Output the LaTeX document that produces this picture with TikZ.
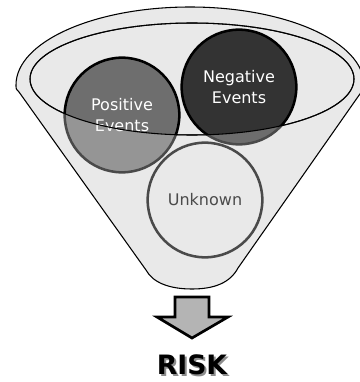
\documentclass[tikz,border=0pt]{standalone}
\usepackage{fontspec}
\setmainfont{DejaVu Sans}

\definecolor{funnelgray}{HTML}{E9E9E9}
\definecolor{posgray}{HTML}{6E6E6E}
\definecolor{neggray}{HTML}{333333}
\definecolor{arrowgray}{HTML}{B4B4B4}

% outline of the funnel (pixel units, y downwards)
\newcommand{\funnelpath}{(16,85) arc[start angle=180, end angle=360, x radius=174, y radius=78]
    .. controls (364,87) .. (362,91) -- (238,268)
    .. controls (230,283) and (214,289) .. (192,289)
    .. controls (170,289) and (153,283) .. (146,270)
    -- (19,92) .. controls (16,89) .. (16,85) -- cycle}

\begin{document}
\begin{tikzpicture}[
    x=0.75pt, y=-0.75pt,
    event/.style={circle, draw=black, line width=1.9pt, minimum size=86pt, inner sep=0pt,
        align=center, font=\fontsize{12}{15.75}\selectfont},
    outline/.style={draw=black, line width=0.8pt},
    riskfont/.style={font=\fontsize{20}{24}\bfseries\selectfont}
]
    \useasboundingbox (0,0) rectangle (360,382);
    \clip (0,0) rectangle (360,382);

    % Funnel body and mouth
    \fill[funnelgray] \funnelpath;
    \draw[outline] (192,79) ellipse [x radius=162, y radius=56];

    % Events
    \node[event, fill=posgray, text=white] (pos) at (122,115) {Positive\\Events};
    \node[event, fill=neggray, text=white] (neg) at (239,87) {Negative\\Events};
    \node[event, fill=funnelgray, text=black] (unk) at (205,200) {Unknown};

    % Front of the funnel, see-through
    \fill[funnelgray, fill opacity=0.32, even odd rule] \funnelpath (192,79) ellipse [x radius=162, y radius=56];
    \draw[outline] (192,79) ellipse [x radius=162, y radius=56];
    \draw[outline] \funnelpath;

    % Arrow down to risk
    \draw[fill=arrowgray, line width=2pt, line join=miter]
        (175,297) -- (209,297) -- (209,317) -- (228,317) -- (192,338)
        -- (157,317) -- (175,317) -- cycle;

    % Result
    \node[riskfont, text=black!45] at (194,366.5) {RISK};
    \node[riskfont] (risk) at (192,365) {RISK};

\end{tikzpicture}
\end{document}
